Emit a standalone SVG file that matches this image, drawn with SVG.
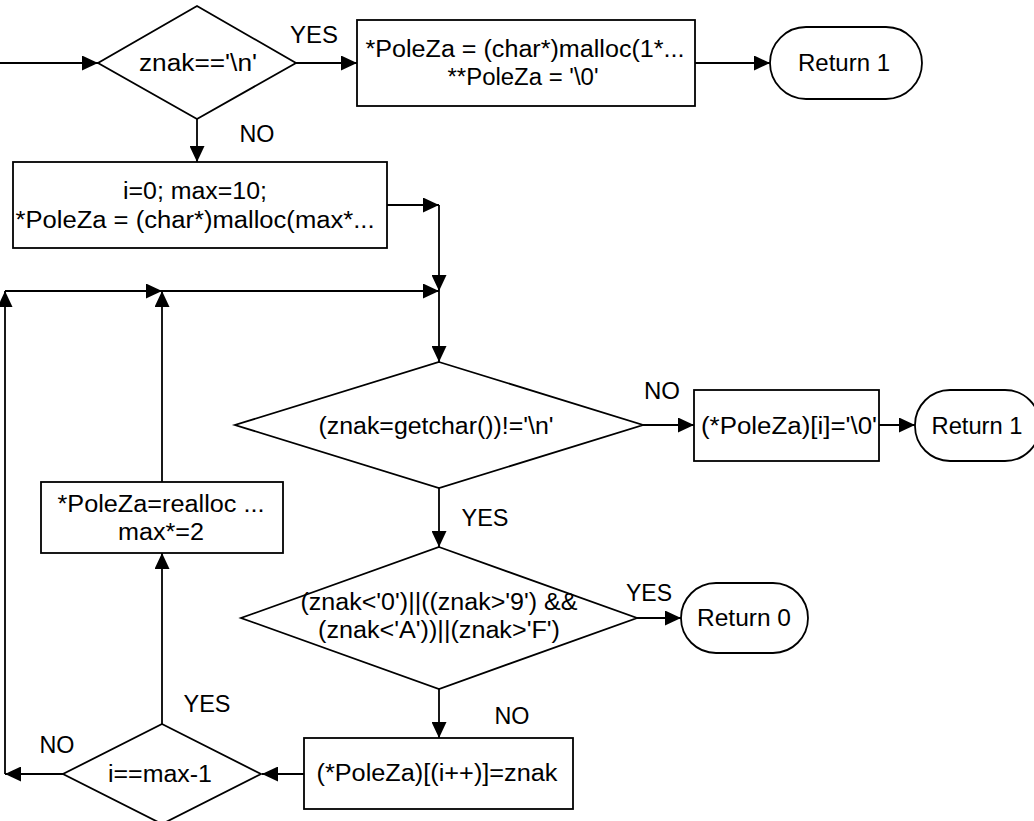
<svg xmlns="http://www.w3.org/2000/svg" width="1034" height="821" viewBox="0 0 1034 821">
<style>
.s{fill:#fff;stroke:#000;stroke-width:1.8}
.c{fill:none;stroke:#000;stroke-width:1.8}
text{font-family:"Liberation Sans",Arial,sans-serif;font-size:23.5px;fill:#000}
.m{text-anchor:middle}
</style>
<defs>
<marker id="a" markerUnits="userSpaceOnUse" markerWidth="16" markerHeight="15" refX="16" refY="7.5" orient="auto">
<path d="M0,0 L16,7.5 L0,15 z" fill="#000"/>
</marker>
</defs>
<rect width="1034" height="821" fill="#fff"/>
<g id="connectors">
<line class="c" x1="0" y1="63" x2="98" y2="63" marker-end="url(#a)"/>
<line class="c" x1="296" y1="63" x2="357" y2="63" marker-end="url(#a)"/>
<line class="c" x1="695" y1="63" x2="770" y2="63" marker-end="url(#a)"/>
<line class="c" x1="197" y1="119" x2="197" y2="162" marker-end="url(#a)"/>
<line class="c" x1="387" y1="205" x2="439" y2="205" marker-end="url(#a)"/>
<line class="c" x1="439" y1="205" x2="439" y2="291" marker-end="url(#a)"/>
<line class="c" x1="439" y1="291" x2="439" y2="362" marker-end="url(#a)"/>
<line class="c" x1="64" y1="774" x2="5" y2="774" marker-end="url(#a)"/>
<line class="c" x1="5" y1="774" x2="5" y2="291" marker-end="url(#a)"/>
<line class="c" x1="5" y1="291" x2="162" y2="291" marker-end="url(#a)"/>
<line class="c" x1="162" y1="291" x2="439" y2="291" marker-end="url(#a)"/>
<line class="c" x1="162" y1="724" x2="162" y2="553" marker-end="url(#a)"/>
<line class="c" x1="162" y1="482" x2="162" y2="291" marker-end="url(#a)"/>
<line class="c" x1="643" y1="425" x2="694" y2="425" marker-end="url(#a)"/>
<line class="c" x1="879" y1="425" x2="915" y2="425" marker-end="url(#a)"/>
<line class="c" x1="439" y1="488" x2="439" y2="547" marker-end="url(#a)"/>
<line class="c" x1="637" y1="618" x2="681" y2="618" marker-end="url(#a)"/>
<line class="c" x1="439" y1="689" x2="439" y2="738" marker-end="url(#a)"/>
<line class="c" x1="304" y1="774" x2="262" y2="774" marker-end="url(#a)"/>
<text x="314" y="43" class="m" textLength="48" lengthAdjust="spacingAndGlyphs">YES</text>
<text x="257" y="142" class="m" textLength="35" lengthAdjust="spacingAndGlyphs">NO</text>
<text x="662" y="399" class="m" textLength="36" lengthAdjust="spacingAndGlyphs">NO</text>
<text x="485" y="526" class="m" textLength="47" lengthAdjust="spacingAndGlyphs">YES</text>
<text x="649" y="601" class="m" textLength="46" lengthAdjust="spacingAndGlyphs">YES</text>
<text x="512" y="724" class="m" textLength="35" lengthAdjust="spacingAndGlyphs">NO</text>
<text x="207" y="712" class="m" textLength="47" lengthAdjust="spacingAndGlyphs">YES</text>
<text x="57" y="753" class="m" textLength="35" lengthAdjust="spacingAndGlyphs">NO</text>
</g>
<g id="n1">
<polygon class="s" points="197,6 296,63 197,119 98,63"/>
<text x="198" y="71" class="m" textLength="118" lengthAdjust="spacingAndGlyphs">znak=='\n'</text>
</g>
<g id="n2">
<rect class="s" x="357" y="20" width="338" height="86"/>
<text x="525" y="57" class="m" textLength="319" lengthAdjust="spacingAndGlyphs">*PoleZa = (char*)malloc(1*...</text>
<text x="523" y="85" class="m" textLength="151" lengthAdjust="spacingAndGlyphs">**PoleZa = '\0'</text>
</g>
<g id="n3">
<rect class="s" x="770" y="27" width="152" height="72" rx="36" ry="36"/>
<text x="844" y="71" class="m" textLength="92" lengthAdjust="spacingAndGlyphs">Return 1</text>
</g>
<g id="n4">
<rect class="s" x="13" y="162" width="374" height="86"/>
<text x="195" y="199" class="m" textLength="144" lengthAdjust="spacingAndGlyphs">i=0; max=10;</text>
<text x="195" y="228" class="m" textLength="359" lengthAdjust="spacingAndGlyphs">*PoleZa = (char*)malloc(max*...</text>
</g>
<g id="n5">
<polygon class="s" points="439,362 643,425 439,488 235,425"/>
<text x="436" y="434" class="m" textLength="235" lengthAdjust="spacingAndGlyphs">(znak=getchar())!='\n'</text>
</g>
<g id="n6">
<rect class="s" x="694" y="390" width="185" height="71"/>
<text x="789" y="434" class="m" textLength="176" lengthAdjust="spacingAndGlyphs">(*PoleZa)[i]='\0'</text>
</g>
<g id="n7">
<rect class="s" x="915" y="390" width="125" height="71" rx="35" ry="35"/>
<text x="977" y="434" class="m" textLength="91" lengthAdjust="spacingAndGlyphs">Return 1</text>
</g>
<g id="n8">
<rect class="s" x="41" y="482" width="242" height="71"/>
<text x="161" y="512" class="m" textLength="207" lengthAdjust="spacingAndGlyphs">*PoleZa=realloc ...</text>
<text x="161" y="540" class="m" textLength="86" lengthAdjust="spacingAndGlyphs">max*=2</text>
</g>
<g id="n9">
<polygon class="s" points="439,547 637,618 439,689 241,618"/>
<text x="439" y="610" class="m" textLength="277" lengthAdjust="spacingAndGlyphs">(znak&lt;'0')||((znak&gt;'9') &amp;&amp;</text>
<text x="439" y="638" class="m" textLength="242" lengthAdjust="spacingAndGlyphs">(znak&lt;'A'))||(znak&gt;'F')</text>
</g>
<g id="n10">
<rect class="s" x="681" y="583" width="127" height="70" rx="35" ry="35"/>
<text x="744" y="626" class="m" textLength="94" lengthAdjust="spacingAndGlyphs">Return 0</text>
</g>
<g id="n11">
<rect class="s" x="304" y="738" width="269" height="71"/>
<text x="437" y="781" class="m" textLength="241" lengthAdjust="spacingAndGlyphs">(*PoleZa)[(i++)]=znak</text>
</g>
<g id="n12">
<polygon class="s" points="162,724 261,774 162,824 63,774"/>
<text x="160" y="782" class="m" textLength="104" lengthAdjust="spacingAndGlyphs">i==max-1</text>
</g>
</svg>
